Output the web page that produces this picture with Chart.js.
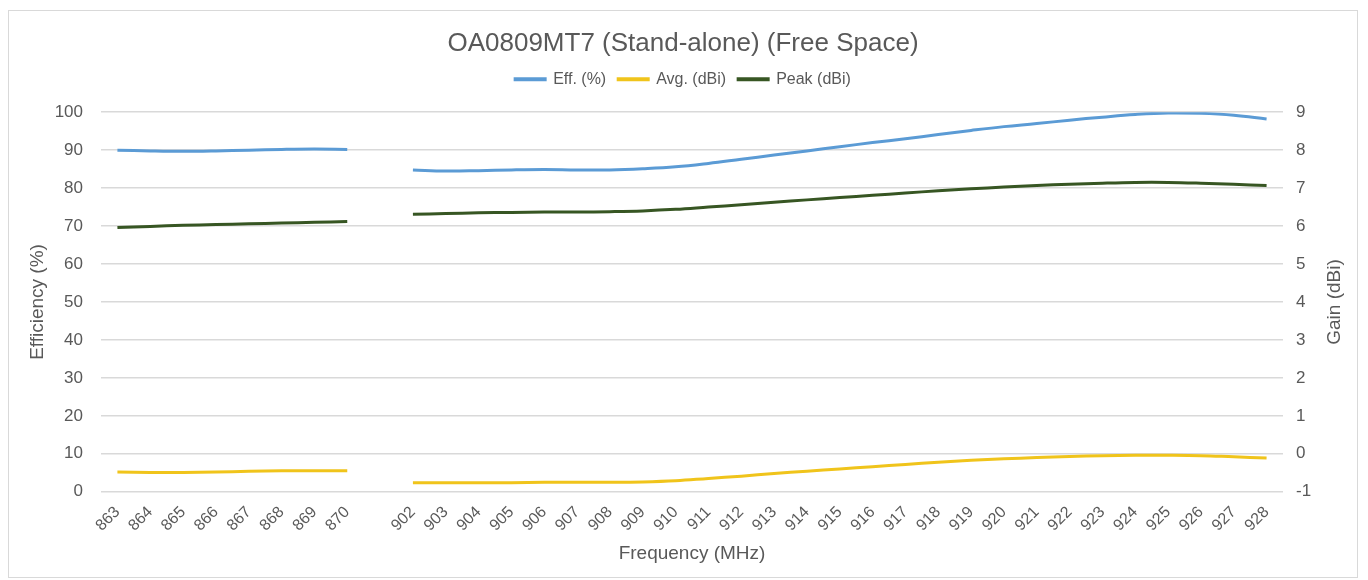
<!DOCTYPE html>
<html lang="en">
<head>
    <meta charset="UTF-8">
    <title>OA0809MT7 (Stand-alone) (Free Space)</title>
    <script src="https://cdn.jsdelivr.net/npm/chart.js@4.4.0/dist/chart.umd.min.js"></script>
    <style>
        body {
            margin: 0;
            background: #fff;
            font-family: "Liberation Sans", Arial, sans-serif;
        }
        .chart-box {
            position: absolute;
            left: 8px;
            top: 10px;
            width: 1350px;
            height: 568px;
            border: 1px solid #d9d9d9;
            box-sizing: border-box;
        }
    </style>
</head>
<body>

    <div class="chart-box">
        <canvas id="effChart"></canvas>
    </div>

    <script>
        // Frequencies (MHz); the blank label leaves the gap between the two bands
        const frequencies = ['863', '864', '865', '866', '867', '868', '869', '870', '',
            '902', '903', '904', '905', '906', '907', '908', '909', '910', '911', '912', '913', '914', '915',
            '916', '917', '918', '919', '920', '921', '922', '923', '924', '925', '926', '927', '928'];

        // Efficiency (%), left axis
        const effValues = [90.0, 89.8, 89.7, 89.8, 90.0, 90.2, 90.3, 90.2, null,
            84.8, 84.5, 84.6, 84.8, 84.9, 84.8, 84.8, 85.1, 85.6, 86.5, 87.6, 88.7, 89.8, 90.9,
            92.0, 93.0, 94.1, 95.2, 96.2, 97.0, 97.9, 98.7, 99.4, 99.8, 99.7, 99.2, 98.2];

        // Average gain (dBi), right axis
        const avgValues = [-0.48, -0.49, -0.49, -0.48, -0.46, -0.45, -0.45, -0.45, null,
            -0.76, -0.76, -0.76, -0.76, -0.75, -0.75, -0.75, -0.74, -0.71, -0.65, -0.59, -0.52, -0.46, -0.40,
            -0.34, -0.28, -0.22, -0.17, -0.13, -0.10, -0.07, -0.05, -0.04, -0.04, -0.05, -0.08, -0.11];

        // Peak gain (dBi), right axis
        const peakValues = [5.96, 5.99, 6.02, 6.04, 6.06, 6.08, 6.10, 6.12, null,
            6.31, 6.33, 6.35, 6.36, 6.37, 6.37, 6.38, 6.40, 6.44, 6.50, 6.56, 6.63, 6.69, 6.75,
            6.81, 6.87, 6.93, 6.98, 7.03, 7.07, 7.10, 7.13, 7.15, 7.15, 7.13, 7.10, 7.07];

        const textColor = '#595959';
        const gridColor = '#d9d9d9';
        const fontFamily = '"Liberation Sans", Arial, sans-serif';

        // more room under the legend, like the original
        const legendGap = {
            id: 'legendGap',
            beforeInit(chart) {
                const fitLegend = chart.legend.fit;
                chart.legend.fit = function () {
                    fitLegend.bind(chart.legend)();
                    this.height += 15;
                };
            }
        };

        // right axis title reads bottom-to-top, as on the left
        const gainTitle = {
            id: 'gainTitle',
            afterDraw(chart) {
                const c = chart.ctx;
                const area = chart.chartArea;
                c.save();
                c.translate(chart.width - 22, (area.top + area.bottom) / 2);
                c.rotate(-Math.PI / 2);
                c.fillStyle = textColor;
                c.font = '19px ' + fontFamily;
                c.textAlign = 'center';
                c.textBaseline = 'middle';
                c.fillText('Gain (dBi)', 0, 0);
                c.restore();
            }
        };

        const ctx = document.getElementById('effChart').getContext('2d');
        new Chart(ctx, {
            type: 'line',
            data: {
                labels: frequencies,
                datasets: [
                    {
                        label: 'Eff. (%)',
                        data: effValues,
                        yAxisID: 'yEff',
                        borderColor: '#5b9bd5',
                        backgroundColor: '#5b9bd5',
                        borderWidth: 3,
                        pointRadius: 0,
                        tension: 0.4,
                        spanGaps: false
                    },
                    {
                        label: 'Avg. (dBi)',
                        data: avgValues,
                        yAxisID: 'yGain',
                        borderColor: '#f0c41b',
                        backgroundColor: '#f0c41b',
                        borderWidth: 3,
                        pointRadius: 0,
                        tension: 0.4,
                        spanGaps: false
                    },
                    {
                        label: 'Peak (dBi)',
                        data: peakValues,
                        yAxisID: 'yGain',
                        borderColor: '#375623',
                        backgroundColor: '#375623',
                        borderWidth: 3,
                        pointRadius: 0,
                        tension: 0.4,
                        spanGaps: false
                    }
                ]
            },
            options: {
                responsive: true,
                maintainAspectRatio: false,
                animation: false,
                layout: {
                    padding: { left: 13, right: 13, top: 6, bottom: 8 }
                },
                plugins: {
                    title: {
                        display: true,
                        text: 'OA0809MT7 (Stand-alone) (Free Space)',
                        color: textColor,
                        font: { size: 26, weight: 'normal', family: fontFamily },
                        padding: { top: 11, bottom: 0 }
                    },
                    legend: {
                        display: true,
                        labels: {
                            color: textColor,
                            boxWidth: 30,
                            boxHeight: 1,
                            padding: 12,
                            font: { size: 16, family: fontFamily }
                        }
                    },
                    tooltip: { enabled: false }
                },
                scales: {
                    x: {
                        offset: true,
                        grid: { display: false },
                        border: { display: false },
                        ticks: {
                            color: textColor,
                            autoSkip: false,
                            minRotation: 45,
                            maxRotation: 45,
                            font: { size: 16, family: fontFamily }
                        },
                        title: {
                            display: true,
                            text: 'Frequency (MHz)',
                            color: textColor,
                            font: { size: 19, family: fontFamily }
                        }
                    },
                    yEff: {
                        position: 'left',
                        min: 0,
                        max: 100,
                        afterFit(scale) { scale.width = 79; },
                        ticks: { stepSize: 10, color: textColor, font: { size: 17, family: fontFamily }, padding: 18 },
                        grid: { color: gridColor, lineWidth: 1.5, drawTicks: false },
                        border: { display: false },
                        title: {
                            display: true,
                            text: 'Efficiency (%)',
                            color: textColor,
                            font: { size: 19, family: fontFamily }
                        }
                    },
                    yGain: {
                        position: 'right',
                        min: -1,
                        max: 9,
                        afterFit(scale) { scale.width = 61; },
                        ticks: { stepSize: 1, color: textColor, font: { size: 17, family: fontFamily }, padding: 13 },
                        grid: { display: false, drawTicks: false },
                        border: { display: false }
                    }
                }
            },
            plugins: [legendGap, gainTitle]
        });
    </script>
</body>
</html>
